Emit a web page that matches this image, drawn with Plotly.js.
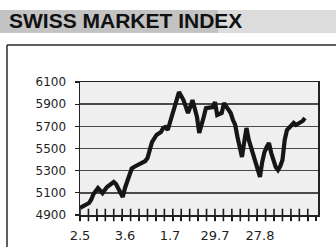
<!DOCTYPE html>
<html>
<head>
<meta charset="utf-8">
<script src="https://cdn.plot.ly/plotly-3.0.1.min.js"></script>
<style>
  html, body { margin: 0; padding: 0; background: #ffffff; }
  #chart { width: 336px; height: 247px; }
</style>
</head>
<body>
<div id="chart"></div>
<script>
// Trading-day index (0 = first label date) and Swiss Market Index level
var days = [0, 2, 4, 5, 6, 8, 10, 12, 13, 15, 16, 17, 18, 19, 20, 21, 22, 23, 24, 26,
            28, 29, 30, 31, 32, 34, 36, 37, 38, 39, 40, 41, 42, 43, 44, 46, 48, 49, 50, 52,
            53, 55, 56, 59, 60, 61, 63, 64, 67, 68, 69, 70, 71, 72, 73, 74, 75, 76, 77, 78,
            79, 80, 81, 82, 83, 84, 85, 86, 87, 88, 89, 90, 91, 92, 93, 94, 95, 96, 97, 98,
            99, 100];
var smi = [4963, 4990, 5008, 5040, 5090, 5144, 5098, 5153, 5171, 5198, 5180, 5144, 5098, 5062, 5144, 5200, 5270, 5320, 5333, 5351,
           5369, 5387, 5414, 5504, 5558, 5622, 5649, 5685, 5694, 5667, 5739, 5820, 5874, 5964, 6009, 5937, 5820, 5874, 5937, 5784,
           5640, 5784, 5865, 5874, 5919, 5802, 5820, 5910, 5820, 5757, 5712, 5604, 5495, 5423, 5559, 5685, 5580, 5513, 5450, 5396,
           5315, 5243, 5378, 5468, 5513, 5549, 5459, 5396, 5333, 5306, 5340, 5396, 5577, 5667, 5690, 5715, 5730, 5712, 5725, 5730,
           5748, 5775];
var labelDays = [0, 20, 40, 60, 80];
var labelText = ["2.5", "3.6", "1.7", "29.7", "27.8"];
var yTicks = [4900, 5100, 5300, 5500, 5700, 5900, 6100];
var chartTitle = "SWISS MARKET INDEX";

var xRange = [0, 105.8];
var tickStep = 3.75;

var W = 336, H = 247, L = 80, R = 18, T = 82, B = 32;
function px(x) { return (x - L) / (W - L - R); }
function py(y) { return (H - B - y) / (H - T - B); }

// crossing tick marks along the category axis (vertical-line markers sitting on the axis)
var tickPos = [], tickBase = [];
for (var k = 0; k * tickStep <= 104; k++) { tickPos.push(k * tickStep); tickBase.push(yTicks[0]); }

var traces = [
  { x: days, y: smi, type: 'scatter', mode: 'lines',
    line: { color: '#161616', width: 4.2, shape: 'linear' }, hoverinfo: 'skip', showlegend: false },
  { x: tickPos, y: tickBase, type: 'scatter', mode: 'markers', cliponaxis: false,
    marker: { symbol: 'line-ns', size: 9, color: '#1a1a1a', line: { color: '#1a1a1a', width: 1.6 } },
    hoverinfo: 'skip', showlegend: false }
];

var shapes = [
  { type: 'rect', xref: 'paper', yref: 'paper', layer: 'below',
    x0: px(0), x1: px(336), y0: py(33), y1: py(10),
    fillcolor: '#dcdcdc', line: { width: 0 } },
  { type: 'rect', xref: 'paper', yref: 'paper', layer: 'below',
    x0: px(0), x1: px(218), y0: py(33), y1: py(10),
    fillcolor: '#c3c3c3', line: { width: 0 } },
  { type: 'line', xref: 'paper', yref: 'paper',
    x0: px(7), x1: px(336), y0: py(45), y1: py(45),
    line: { color: '#2a2a2a', width: 1.5 } },
  { type: 'line', xref: 'paper', yref: 'paper',
    x0: px(7), x1: px(7), y0: py(45), y1: py(247),
    line: { color: '#2a2a2a', width: 1.5 } }
];

var layout = {
  width: W, height: H,
  margin: { l: L, r: R, t: T, b: B, pad: 0 },
  paper_bgcolor: '#ffffff',
  plot_bgcolor: '#efefef',
  showlegend: false,
  title: {
    text: '<b>' + chartTitle + '</b>',
    xref: 'container', yref: 'container',
    x: 9 / W, y: 1 - 21 / H, xanchor: 'left', yanchor: 'middle',
    font: { family: 'Liberation Sans Narrow, Arial Narrow, Liberation Sans, Arial, sans-serif', size: 21, color: '#111111' }
  },
  xaxis: {
    range: xRange, tickvals: labelDays, ticktext: labelText,
    ticks: '', showgrid: false, zeroline: false,
    minor: { tick0: 0, dtick: tickStep, ticks: 'outside', ticklen: 4, tickwidth: 1.5, tickcolor: '#1a1a1a', showgrid: false },
    showline: true, linecolor: '#222', linewidth: 1.5, mirror: true,
    tickfont: { family: 'DejaVu Sans, Arial, sans-serif', size: 13, color: '#1e1e1e' },
    ticklabelstandoff: 8,
    fixedrange: true
  },
  yaxis: {
    range: [4900, 6100], tickvals: yTicks,
    ticks: 'outside', ticklen: 4, tickwidth: 1.3, tickcolor: '#222',
    showgrid: true, gridcolor: '#4a4a4a', gridwidth: 1.5,
    zeroline: false, showline: true, linecolor: '#222', linewidth: 1.5, mirror: true,
    tickfont: { family: 'DejaVu Sans, Arial, sans-serif', size: 12, color: '#1e1e1e' },
    ticklabelstandoff: 6,
    fixedrange: true
  },
  shapes: shapes
};

Plotly.newPlot('chart', traces, layout, { displayModeBar: false, staticPlot: true });
</script>
</body>
</html>
